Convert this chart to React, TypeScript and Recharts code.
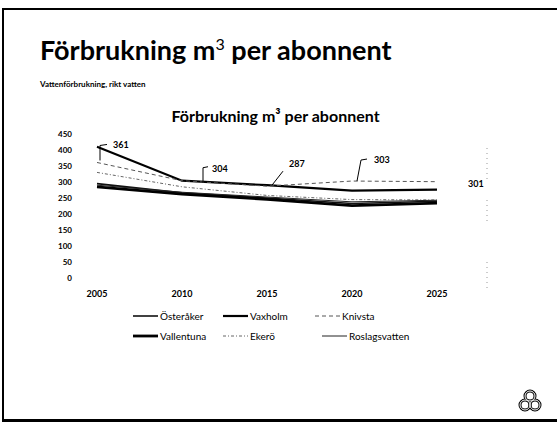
import React from 'react';
import { LineChart, Line, XAxis, YAxis, LabelList } from 'recharts';

const years = [2005, 2010, 2015, 2020, 2025];
const yTicks = [0, 50, 100, 150, 200, 250, 300, 350, 400, 450];
const osteraker = [295, 266, 250, 233, 240];
const vaxholm = [410, 304, 290, 273, 276];
const knivsta = [361, 304, 287, 303, 301];
const vallentuna = [285, 262, 246, 226, 234];
const ekero = [330, 285, 258, 245, 244];
const roslagsvatten = [290, 268, 253, 238, 243];

const seriesNames = ['Österåker', 'Vaxholm', 'Knivsta', 'Vallentuna', 'Ekerö', 'Roslagsvatten'];
const seriesValues = [osteraker, vaxholm, knivsta, vallentuna, ekero, roslagsvatten];

const styles = [
  { stroke: '#111', width: 1.6, dash: undefined },
  { stroke: '#000', width: 2.2, dash: undefined },
  { stroke: '#555', width: 1, dash: '4 3' },
  { stroke: '#000', width: 2.8, dash: undefined },
  { stroke: '#666', width: 1, dash: '3 2 1 2' },
  { stroke: '#222', width: 1, dash: undefined },
];

const data = years.map((y, i) => {
  const row: any = { year: y };
  seriesNames.forEach((n, s) => (row[n] = seriesValues[s][i]));
  return row;
});

const font = 'Lato, "Open Sans", sans-serif';

const labelOffsets = [
  { tx: 16, ty: -17, lead: (x: number, y: number) => `M${x + 10},${y - 18} L${x + 3},${y - 17} L${x + 3},${y - 2}` },
  { tx: 30, ty: -11, lead: (x: number, y: number) => `M${x + 26},${y - 14} L${x + 21},${y - 13} L${x + 21},${y + 2}` },
  { tx: 22, ty: -21, lead: (x: number, y: number) => `M${x + 16},${y - 15} L${x + 5},${y - 1}` },
  { tx: 22, ty: -20, lead: (x: number, y: number) => `M${x + 15},${y - 22} L${x + 9},${y - 21} L${x + 5},${y}` },
  { tx: 31, ty: 3, lead: null as any },
];

const PointLabel = (props: any) => {
  const { x, y, value, index } = props;
  const o = labelOffsets[index];
  return (
    <g>
      {o.lead && <path d={o.lead(x, y)} stroke="#000" strokeWidth={1} fill="none" />}
      <text x={x + o.tx} y={y + o.ty} fontFamily={font} fontWeight={700} fontSize={9} fill="#000" dominantBaseline="middle">
        {value}
      </text>
    </g>
  );
};

const legendPos = [
  { x: 133, y: 316 },
  { x: 223, y: 316 },
  { x: 315, y: 316 },
  { x: 133, y: 336 },
  { x: 223, y: 336 },
  { x: 322, y: 336 },
];

export default function App() {
  return (
    <div style={{ position: 'absolute', left: 0, top: 0, width: 557, height: 426, background: '#fff', overflow: 'hidden' }}>
      {/* slide frame */}
      <div style={{ position: 'absolute', left: 2, top: 8, width: 555, height: 1.5, background: '#000' }} />
      <div style={{ position: 'absolute', left: 2, top: 8, width: 2, height: 414, background: '#000' }} />
      <div style={{ position: 'absolute', left: 2, top: 419, width: 555, height: 3, background: '#000' }} />

      <div style={{ position: 'absolute', left: 40, top: 33, fontFamily: font, fontWeight: 700, fontSize: 27, color: '#000', whiteSpace: 'nowrap' }}>
        Förbrukning m<span style={{ fontSize: 16, position: 'relative', top: -10, fontWeight: 400 }}>3</span> per abonnent
      </div>
      <div style={{ position: 'absolute', left: 40, top: 79, fontFamily: font, fontWeight: 700, fontSize: 8, color: '#000', whiteSpace: 'nowrap' }}>
        Vattenförbrukning, rikt vatten
      </div>
      <div style={{ position: 'absolute', left: 0, width: 557, top: 106, textAlign: 'center', fontFamily: font, fontWeight: 700, fontSize: 16, color: '#000', whiteSpace: 'nowrap' }}>
        <span style={{ position: 'relative', left: -3 }}>Förbrukning m³ per abonnent</span>
      </div>

      <div style={{ position: 'absolute', left: 0, top: 0 }}>
        <LineChart width={557} height={426} data={data} margin={{ top: 134, right: 120, bottom: 0, left: 0 }}>
          <XAxis
            dataKey="year"
            type="number"
            domain={[2005, 2025]}
            ticks={years}
            axisLine={false}
            tickLine={false}
            tickSize={0}
            tickMargin={13}
            height={148}
            tick={{ fontFamily: font, fontWeight: 700, fontSize: 9, fill: '#000' }}
          />
          <YAxis
            domain={[0, 450]}
            ticks={yTicks}
            axisLine={false}
            tickLine={false}
            tickSize={0}
            tickMargin={25}
            width={97}
            tick={{ fontFamily: font, fontWeight: 700, fontSize: 8, fill: '#000' }}
          />
          {seriesNames.map((n, s) => (
            <Line
              key={n}
              dataKey={n}
              type="linear"
              stroke={styles[s].stroke}
              strokeWidth={styles[s].width}
              strokeDasharray={styles[s].dash}
              dot={false}
              activeDot={false}
              isAnimationActive={false}
            >
              {n === 'Knivsta' && <LabelList dataKey={n} content={PointLabel} />}
            </Line>
          ))}
        </LineChart>
      </div>

      {/* legend */}
      {seriesNames.map((n, s) => (
        <div key={n} style={{ position: 'absolute', left: legendPos[s].x, top: legendPos[s].y - 6, height: 12, display: 'flex', alignItems: 'center', whiteSpace: 'nowrap' }}>
          <svg width={26} height={12}>
            <line x1={0} y1={6} x2={25} y2={6} stroke={styles[s].stroke} strokeWidth={styles[s].width} strokeDasharray={styles[s].dash} />
          </svg>
          <span style={{ fontFamily: font, fontSize: 10, color: '#000', marginLeft: 1 }}>{n}</span>
        </div>
      ))}

      {/* scan artifacts on right */}
      <svg style={{ position: 'absolute', left: 0, top: 0 }} width={557} height={426}>
        <line x1={487} y1={148} x2={487} y2={182} stroke="#999" strokeWidth={1} strokeDasharray="1 4" />
        <line x1={487} y1={200} x2={487} y2={222} stroke="#999" strokeWidth={1} strokeDasharray="1 4" />
        <line x1={487} y1={262} x2={487} y2={292} stroke="#999" strokeWidth={1} strokeDasharray="1 4" />
        {/* logo */}
        <g fill="none">
          <circle cx={530} cy={396} r={5} stroke="#000" strokeWidth={3} />
          <circle cx={525} cy={405} r={5} stroke="#000" strokeWidth={3} />
          <circle cx={535} cy={405} r={5} stroke="#000" strokeWidth={3} />
          <circle cx={530} cy={396} r={5} stroke="#fff" strokeWidth={1} />
          <circle cx={525} cy={405} r={5} stroke="#fff" strokeWidth={1} />
          <circle cx={535} cy={405} r={5} stroke="#fff" strokeWidth={1} />
        </g>
      </svg>
    </div>
  );
}
